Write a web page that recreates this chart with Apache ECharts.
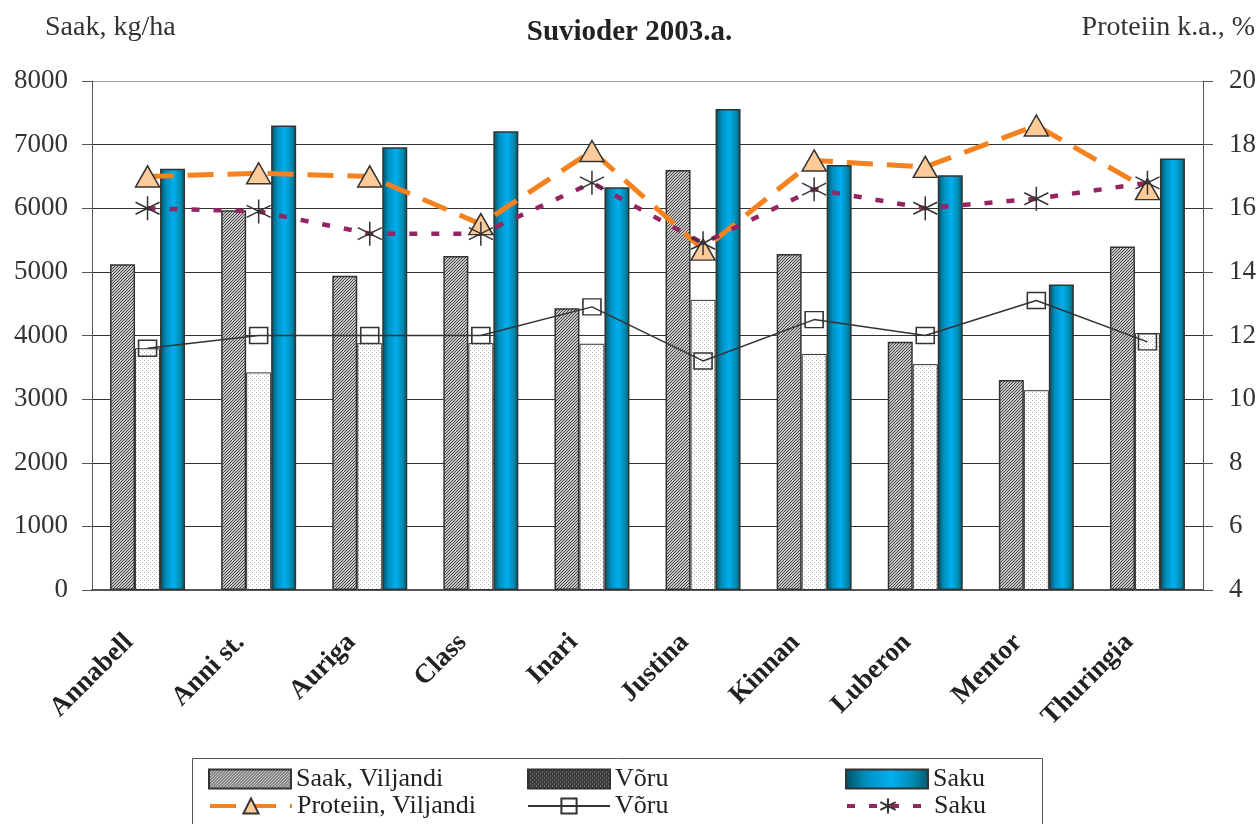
<!DOCTYPE html>
<html>
<head>
<meta charset="utf-8">
<script src="https://cdn.jsdelivr.net/npm/echarts@6/dist/echarts.min.js"></script>
<style>
  html, body { margin: 0; padding: 0; background: #fff; }
  #chart { width: 1259px; height: 824px; }
</style>
</head>
<body>
<div id="chart"></div>
<script>
// andmed
var sordid = ['Annabell', 'Anni st.', 'Auriga', 'Class', 'Inari', 'Justina', 'Kinnan', 'Luberon', 'Mentor', 'Thuringia'];
var saakViljandi = [5120, 5970, 4940, 5250, 4430, 6600, 5280, 3900, 3300, 5400];
var saakVoru = [3800, 3420, 3880, 3880, 3870, 4560, 3710, 3550, 3140, 4040];
var saakSaku = [6620, 7300, 6960, 7210, 6330, 7560, 6680, 6520, 4800, 6780];
var protViljandi = [17.0, 17.1, 17.0, 15.5, 17.8, 14.7, 17.5, 17.3, 18.6, 16.6];
var protVoru = [11.6, 12.0, 12.0, 12.0, 12.9, 11.2, 12.5, 12.0, 13.1, 11.8];
var protSaku = [16.0, 15.9, 15.2, 15.2, 16.8, 14.9, 16.6, 16.0, 16.3, 16.8];

var font = 'Liberation Serif';

// mustrid tulpadele
function hatch() {
  var c = document.createElement('canvas');
  c.width = 3; c.height = 3;
  var ctx = c.getContext('2d');
  ctx.fillStyle = '#c4c4c4';
  ctx.fillRect(0, 0, 3, 3);
  ctx.fillStyle = '#474747';
  for (var i = 0; i < 3; i++) ctx.fillRect(i, 2 - i, 1, 1);
  return c;
}
function dots(bg, fg) {
  var c = document.createElement('canvas');
  c.width = 4; c.height = 4;
  var ctx = c.getContext('2d');
  ctx.fillStyle = bg;
  ctx.fillRect(0, 0, 4, 4);
  ctx.fillStyle = fg;
  ctx.fillRect(0, 0, 1, 1);
  ctx.fillRect(2, 2, 1, 1);
  return c;
}

var sakuGrad = {
  type: 'linear', x: 0, y: 0, x2: 1, y2: 0,
  colorStops: [
    { offset: 0, color: '#004f60' },
    { offset: 0.25, color: '#0090c0' },
    { offset: 0.55, color: '#00aeef' },
    { offset: 0.8, color: '#008db4' },
    { offset: 1, color: '#005a6c' }
  ]
};

var asterisk = 'path://M5,0L5,10M0.7,2.5L9.3,7.5M9.3,2.5L0.7,7.5';

var chart = echarts.init(document.getElementById('chart'));

var legendText = { fontFamily: font, fontSize: 26, color: '#222' };
function leg(item, x, y, icon) {
  return {
    left: x, top: y, itemWidth: 82, itemHeight: 19, icon: icon,
    selectedMode: false, textStyle: legendText, padding: 0, itemGap: 0,
    formatter: function (n) { return n.trim(); },
    data: [item]
  };
}

chart.setOption({
  animation: false,
  backgroundColor: '#fff',
  title: {
    text: 'Suvioder 2003.a.',
    left: 'center',
    top: 13,
    textStyle: { fontFamily: font, fontSize: 29, fontWeight: 'bold', color: '#222' }
  },
  grid: { left: 92, right: 56, top: 81, bottom: 234 },
  legend: [
    leg('Saak, Viljandi', 208, 766, 'rect'),
    leg({ name: 'Proteiin, Viljandi', lineStyle: { width: 4 } }, 208, 793),
    leg({ name: 'Võru', itemStyle: { color: { image: dots('#3a3a3a', '#9a9a9a'), repeat: 'repeat' } } }, 527, 766, 'rect'),
    leg('Võru ', 527, 793),
    leg('Saku', 845, 766, 'rect'),
    leg({ name: 'Saku ', lineStyle: { width: 4 } }, 845, 793)
  ],
  graphic: [
    { type: 'text', left: 45, top: 14,
      style: { text: 'Saak, kg/ha', fontFamily: font, fontSize: 28, fill: '#333' } },
    { type: 'text', right: 4, top: 14,
      style: { text: 'Proteiin k.a., %', fontFamily: font, fontSize: 28, fill: '#333' } },
    { type: 'rect', left: 190, top: 756,
      shape: { width: 850, height: 80 },
      style: { fill: 'none', stroke: '#555', lineWidth: 1 } }
  ],
  xAxis: {
    type: 'category',
    data: sordid,
    axisLine: { lineStyle: { color: '#555', width: 2 } },
    axisTick: { length: 10, lineStyle: { color: '#444' } },
    axisLabel: {
      rotate: 45, margin: 30, padding: [0, 26, 0, 0],
      fontFamily: font, fontSize: 27, fontWeight: 'bold', color: '#222'
    }
  },
  yAxis: [
    {
      type: 'value', min: 0, max: 8000, interval: 1000,
      axisLine: { show: true, lineStyle: { color: '#555' } },
      axisTick: { show: true, length: 10, lineStyle: { color: '#555' } },
      axisLabel: { fontFamily: font, fontSize: 27, color: '#333', margin: 24,
        formatter: function (v) { return String(v); } },
      splitLine: { lineStyle: { color: ['#333', '#333', '#333', '#333', '#333', '#333', '#333', '#333', '#a39b9b'], width: 1.2 } }
    },
    {
      type: 'value', min: 4, max: 20, interval: 2,
      axisLine: { show: true, lineStyle: { color: '#555' } },
      axisTick: { show: true, length: 10, lineStyle: { color: '#555' } },
      axisLabel: { fontFamily: font, fontSize: 27, color: '#333', margin: 26 },
      splitLine: { show: false }
    }
  ],
  series: [
    {
      name: 'Saak, Viljandi', type: 'bar', yAxisIndex: 0,
      data: saakViljandi, barWidth: 25, barGap: '0%',
      itemStyle: { color: { image: hatch(), repeat: 'repeat' }, borderColor: '#333', borderWidth: 1.5 }
    },
    {
      name: 'Võru', type: 'bar', yAxisIndex: 0,
      data: saakVoru, barWidth: 25, barGap: '0%',
      itemStyle: { color: { image: dots('#ffffff', '#b8b8b8'), repeat: 'repeat' }, borderColor: '#333', borderWidth: 1 }
    },
    {
      name: 'Saku', type: 'bar', yAxisIndex: 0,
      data: saakSaku, barWidth: 25, barGap: '0%',
      itemStyle: { color: sakuGrad, borderColor: '#333', borderWidth: 1.5 }
    },
    {
      name: 'Proteiin, Viljandi', type: 'line', yAxisIndex: 1,
      data: protViljandi, z: 5,
      symbol: 'triangle', symbolSize: [24, 21],
      lineStyle: { color: '#f5821f', width: 5, type: [26, 14] },
      itemStyle: { color: '#ffcc99', borderColor: '#333', borderWidth: 1.5 }
    },
    {
      name: 'Võru ', type: 'line', yAxisIndex: 1,
      data: protVoru, z: 5,
      symbol: 'rect', symbolSize: [18, 16],
      lineStyle: { color: '#333', width: 1.5 },
      itemStyle: { color: 'rgba(255,255,255,0)', borderColor: '#333', borderWidth: 1.5 }
    },
    {
      name: 'Saku ', type: 'line', yAxisIndex: 1,
      data: protSaku, z: 5,
      symbol: asterisk, symbolSize: 24,
      lineStyle: { color: '#952462', width: 4.5, type: [8, 14] },
      itemStyle: { color: 'rgba(0,0,0,0)', borderColor: '#333', borderWidth: 1.5 }
    }
  ]
});
</script>
</body>
</html>
